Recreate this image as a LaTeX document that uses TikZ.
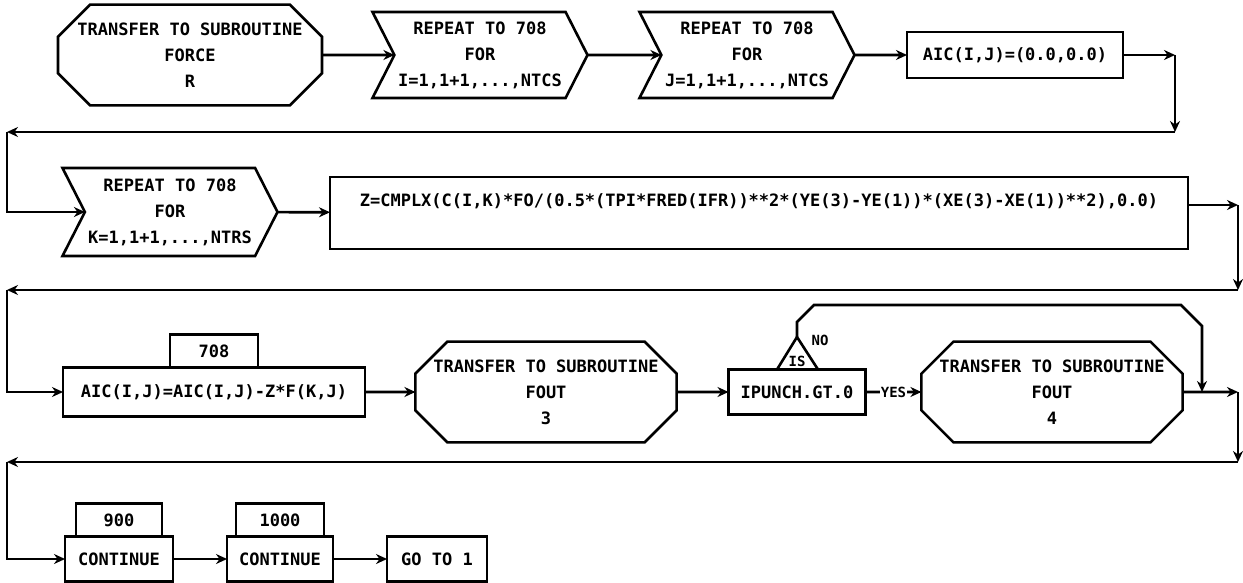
\documentclass[tikz,border=0pt]{standalone}
\usepackage{fontspec}
\setmonofont{DejaVu Sans Mono}
\usepackage{tikz}
\usetikzlibrary{positioning, arrows.meta, shapes.misc, shapes.symbols}
\newcommand{\flowfont}{\ttfamily\bfseries\fontsize{17}{26}\selectfont}
\newcommand{\smallflow}{\ttfamily\bfseries\fontsize{14}{14}\selectfont}
\tikzset{
  >={Stealth[length=11pt,width=10pt]}, % small filled heads
  every picture/.style={line width=2.6pt},
  flow/.style={draw, align=center, font=\flowfont, inner sep=2pt, outer sep=0pt},
  box/.style={flow, rectangle},
  octo/.style={flow, chamfered rectangle, chamfered rectangle xsep=16pt, chamfered rectangle ysep=16pt},
  rpt/.style={flow, signal, signal from=west, signal to=east, signal pointer angle=126, minimum width=215pt, minimum height=86pt},
  tag/.style={box, minimum height=33pt},
  link/.style={->},
  note/.style={font=\smallflow, inner sep=1pt}
}

\begin{document}
\begin{tikzpicture}[x=1pt, y=-1pt]
  \useasboundingbox (0,0) rectangle (1243,583);

  % Row 1
  \node[octo, minimum width=264pt, minimum height=90pt] (force) at (190,55) {TRANSFER TO SUBROUTINE\\FORCE\\R};
  \node[rpt] (rptI) at (480,55) {REPEAT TO 708\\FOR\\I=1,1+1,...,NTCS};
  \node[rpt] (rptJ) at (747,55) {REPEAT TO 708\\FOR\\J=1,1+1,...,NTCS};
  \node[box, minimum width=216pt, minimum height=46pt] (aicz) at (1015,55) {AIC(I,J)=(0.0,0.0)};

  % Row 2
  \node[rpt, minimum height=88pt] (rptK) at (170,212) {REPEAT TO 708\\FOR\\K=1,1+1,...,NTRS};
  \node[box, minimum width=858pt, minimum height=72pt] (zeq) at (759,213) {Z=CMPLX(C(I,K)*FO/(0.5*(TPI*FRED(IFR))**2*(YE(3)-YE(1))*(XE(3)-XE(1))**2),0.0)\\~};

  % Row 3
  \node[box, minimum width=302pt, minimum height=49pt] (aicsub) at (214,392) {AIC(I,J)=AIC(I,J)-Z*F(K,J)};
  \node[tag, minimum width=88pt, above=0pt of aicsub] (t708) {708};
  \node[octo, minimum width=261pt, minimum height=95pt] (fout3) at (546,392) {TRANSFER TO SUBROUTINE\\FOUT\\3};
  \node[box, minimum width=137pt, minimum height=45pt] (ipunch) at (797,392) {IPUNCH.GT.0};
  \node[octo, minimum width=258pt, minimum height=95pt] (fout4) at (1052,392) {TRANSFER TO SUBROUTINE\\FOUT\\4};

  % Row 4
  \node[box, minimum width=108pt, minimum height=45pt] (cont900) at (119,559) {CONTINUE};
  \node[tag, minimum width=86pt, above=0pt of cont900] (t900) {900};
  \node[box, minimum width=106pt, minimum height=45pt] (cont1000) at (280,559) {CONTINUE};
  \node[tag, minimum width=88pt, above=0pt of cont1000] (t1000) {1000};
  \node[box, minimum width=100pt, minimum height=45pt] (goto) at (437,559) {GO TO 1};

  % IS test on top of IPUNCH
  \coordinate (apex) at (797,337);
  \draw ([xshift=-20pt]ipunch.north) -- (apex) -- ([xshift=21pt]ipunch.north);
  \node[note] (is) at (797,361) {IS};
  \node[note] (no) at (820,340) {NO};

  % corners of the return lines
  \coordinate (a1) at (1175,55);
  \coordinate (a2) at (1175,132);
  \coordinate (a3) at (7,132);
  \coordinate (b1) at (1238,205);
  \coordinate (b2) at (1238,290);
  \coordinate (b3) at (7,290);
  \coordinate (c1) at (1238,392);
  \coordinate (c2) at (1238,462);
  \coordinate (c3) at (7,462);
  \coordinate (d1) at (1202,392);

  % Row 1 links
  \draw[link] (force) -- (rptI);
  \draw[link] (rptI) -- (rptJ);
  \draw[link] (rptJ) -- (aicz);
  \draw[link] (aicz) -- (a1);
  \draw[link] (a1) -- (a2);
  \draw[link] (a2) -- (a3);
  \draw[link] (a3) |- (rptK.west);

  % Row 2 links
  \draw[link] (rptK) -- (zeq);
  \draw[link] ([yshift=8pt]zeq.east) -- (b1);
  \draw[link] (b1) -- (b2);
  \draw[link] (b2) -- (b3);
  \draw[link] (b3) |- (aicsub.west);

  % Row 3 links
  \draw[link] (aicsub) -- (fout3);
  \draw[link] (fout3) -- (ipunch);
  \draw[link] (ipunch) -- node[note, fill=white] (yes) {YES} (fout4);
  \draw[link] (apex) -- (797,322) -- (814,305) -- (1181,305) -- (1202,326) -- (d1);
  \draw[link] (fout4) -- (c1);
  \draw[link] (c1) -- (c2);
  \draw[link] (c2) -- (c3);
  \draw[link] (c3) |- (cont900.west);

  % Row 4 links
  \draw[link] (cont900) -- (cont1000);
  \draw[link] (cont1000) -- (goto);
\end{tikzpicture}
\end{document}
